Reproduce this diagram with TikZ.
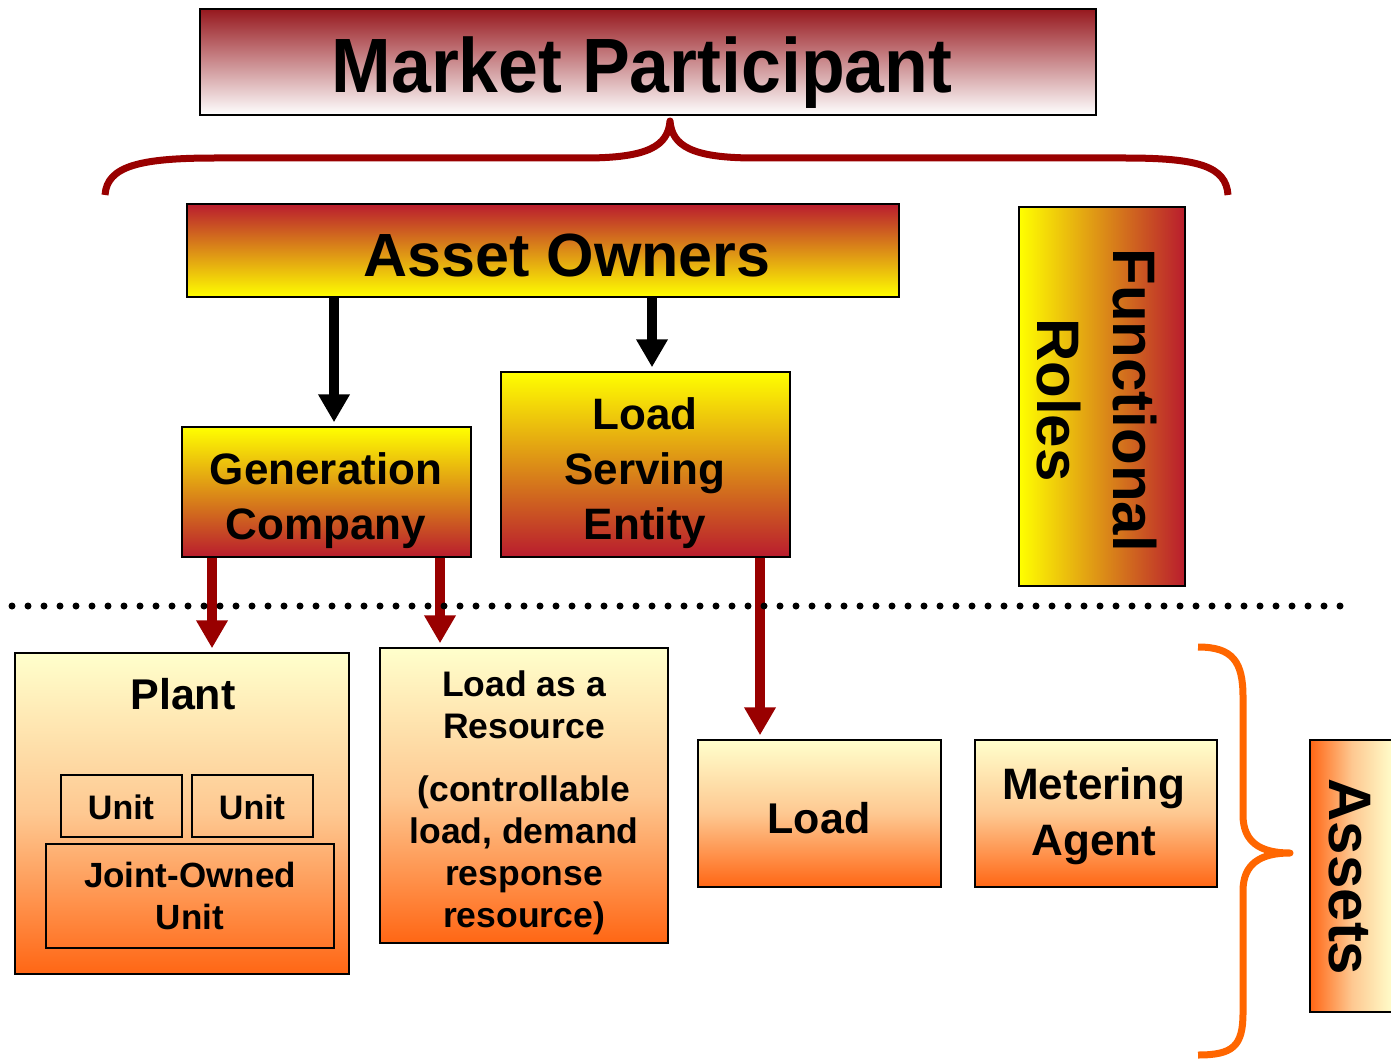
\documentclass[tikz,border=0pt]{standalone}
\usepackage{fontspec}
\setmainfont{Liberation Sans}
\usetikzlibrary{arrows.meta, calc}
\definecolor{mpred}{RGB}{150, 24, 30}
\definecolor{rred}{RGB}{185, 28, 46}
\definecolor{aryel}{RGB}{255, 255, 204}
\definecolor{aorange}{RGB}{255, 102, 20}
\definecolor{apeach}{RGB}{254, 200, 145}
\definecolor{darrow}{RGB}{153, 0, 0}
\definecolor{borange}{RGB}{255, 102, 0}

\newcommand{\fsz}[2]{\fontsize{#1}{#2}\selectfont\bfseries}

\begin{document}
\begin{tikzpicture}[x=1pt, y=-1pt,
    box/.style={draw=black, line width=1.5pt, inner sep=0pt},
    mpbox/.style={box, top color=mpred, bottom color=white},
    ownbox/.style={box, top color=rred, bottom color=yellow},
    rolebox/.style={box, top color=yellow, bottom color=rred},
    assetbox/.style={box, top color=aryel, bottom color=aorange, middle color=apeach},
    subbox/.style={draw=black, line width=1.2pt, inner sep=0pt},
    txt/.style={inner sep=0pt, align=center},
    ownarrow/.style={line width=10pt, -{Triangle[width=30pt, length=28pt]}, shorten >=4pt},
    rolearrow/.style={ownarrow, darrow},
    divider/.style={line width=7pt, line cap=round, dash pattern=on 0pt off 16pt},
    brace/.style={line width=7pt, line join=round}
  ]

  \useasboundingbox (0,0) rectangle (1391,1059);

  % top row
  \node[mpbox, minimum width=896pt, minimum height=106pt] (mp) at (648,62) {};
  \node[txt, font=\fsz{77}{77}] (mp-t) at (642,73) {\scalebox{0.93}[1]{Market Participant}};

  \node[ownbox, minimum width=712pt, minimum height=93pt] (owners) at (543,250.5) {};
  \node[txt, font=\fsz{61}{61}] (owners-t) at (567,256) {Asset Owners};

  \node[box, left color=yellow, right color=rred, minimum width=166pt, minimum height=379pt] (roles) at (1102,396.5) {};
  \node[txt, font=\fsz{60}{76}, rotate=-90] (roles-t) at (1097,400) {Functional\\Roles};

  % functional roles
  \node[rolebox, minimum width=289pt, minimum height=130pt] (genco) at (326.5,492) {};
  \node[txt, font=\fsz{44}{55}] (genco-t) at (326,501) {Generation\\Company};

  \node[rolebox, minimum width=289pt, minimum height=185pt] (lse) at (645.5,464.5) {};
  \node[txt, font=\fsz{44}{55}] (lse-t) at (645,473.5) {Load\\Serving\\Entity};

  % assets
  \node[assetbox, minimum width=334pt, minimum height=321pt] (plant) at (182,813.5) {};
  \node[txt, font=\fsz{43}{43}] (plant-t) at (183,694.5) {Plant};
  \node[subbox, minimum width=121pt, minimum height=62pt] (unit1) at (121.5,806) {};
  \node[txt, font=\fsz{34}{34}] (unit1-t) at (121,807.5) {Unit};
  \node[subbox, minimum width=121pt, minimum height=62pt] (unit2) at (252.5,806) {};
  \node[txt, font=\fsz{34}{34}] (unit2-t) at (252,807.5) {Unit};
  \node[subbox, minimum width=288pt, minimum height=104pt] (joint) at (190,896) {};
  \node[txt, font=\fsz{35}{42}] (joint-t) at (190,896) {Joint-Owned\\Unit};

  \node[assetbox, minimum width=288pt, minimum height=295pt] (lar) at (524,795.5) {};
  \node[txt, font=\fsz{35.5}{42}] (lar-t) at (524,803) {Load as a\\Resource\\[21pt](controllable\\load, demand\\response\\resource)};

  \node[assetbox, minimum width=243pt, minimum height=147pt] (load) at (819.5,813.5) {};
  \node[txt, font=\fsz{43}{43}] (load-t) at (819,818) {Load};

  \node[assetbox, minimum width=242pt, minimum height=147pt] (meter) at (1096,813.5) {};
  \node[txt, font=\fsz{44}{56}] (meter-t) at (1094,816) {Metering\\Agent};

  \node[box, left color=aorange, right color=aryel, middle color=apeach, minimum width=84pt, minimum height=272pt] (assets) at (1352,876) {};
  \node[txt, font=\fsz{60}{60}, rotate=-90] (assets-t) at (1350,877) {Assets};

  % arrows
  \coordinate (g-in) at ([xshift=7.5pt]genco.north);
  \coordinate (l-in) at ([xshift=6.5pt]lse.north);
  \draw[ownarrow] (g-in |- owners.south) -- (g-in);
  \draw[ownarrow] (l-in |- owners.south) -- (l-in);

  \coordinate (g-out1) at ([xshift=-114.5pt]genco.south);
  \coordinate (g-out2) at ([xshift=113.5pt]genco.south);
  \coordinate (l-out) at ([xshift=114.5pt]lse.south);
  \draw[rolearrow] (g-out1) -- (g-out1 |- plant.north);
  \draw[rolearrow] (g-out2) -- (g-out2 |- lar.north);
  \draw[rolearrow] (l-out) -- (l-out |- load.north);

  \coordinate (div-l) at (12,606);
  \coordinate (div-r) at (1352,606);
  \draw[divider] (div-l) -- (div-r);

  % braces
  \draw[brace, darrow] (105,195) .. controls (107,166) and (140,158) .. (215,158) -- (585,158)
    .. controls (648,158) and (668,146) .. (670,121)
    .. controls (672,146) and (692,158) .. (755,158) -- (1125,158)
    .. controls (1198,158) and (1226,166) .. (1228,195);
  \draw[brace, borange] (1198,647) .. controls (1233,647) and (1243,662) .. (1243,697) -- (1243,815)
    .. controls (1243,842) and (1260,853) .. (1290,853)
    .. controls (1260,853) and (1243,864) .. (1243,891) -- (1243,1013)
    .. controls (1243,1046) and (1233,1055) .. (1198,1055);

\end{tikzpicture}
\end{document}
